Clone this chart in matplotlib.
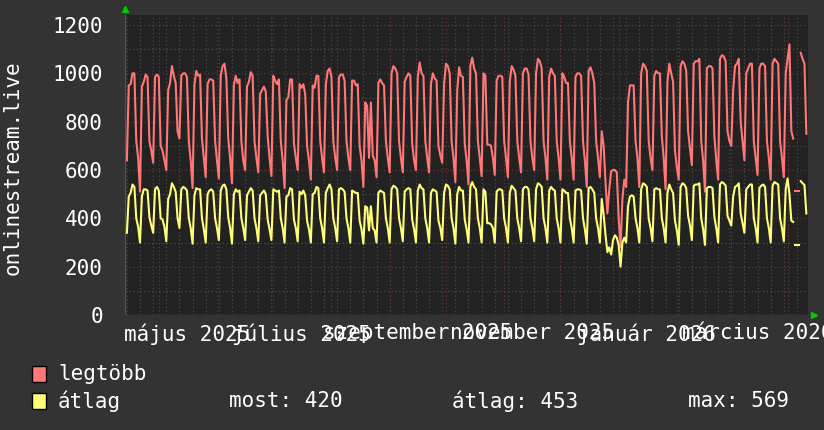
import numpy as np
import pandas as pd
import matplotlib
matplotlib.use("Agg")
import matplotlib.pyplot as plt
import matplotlib.dates as mdates

nan = np.nan

# daily values, first point 2025-04-14; one row = one week
max_vals = [640,
    950, 955, 1000, 1000, 720, 650, 510,
    945, 965, 995, 985, 720, 680, 630,
    985, 995, 985, 700, 680, 640, 600,
    930, 960, 1030, 990, 960, 760, 730,
    990, 1000, 1000, 985, 720, 640, 525,
    955, 1010, 990, 995, 730, 650, 570,
    955, 975, 975, 970, 720, 640, 565,
    990, 1030, 1040, 980, 730, 650, 545,
    950, 990, 960, 975, 720, 640, 600,
    945, 965, 1005, 990, 720, 650, 590,
    915, 930, 945, 925, 740, 650, 575,
    990, 970, 955, 975, 720, 640, 525,
    890, 900, 975, 975, 710, 650, 600,
    955, 940, 955, 915, 700, 640, 560,
    950, 940, 990, 990, 720, 650, 590,
    955, 1010, 1020, 985, 720, 650, 600,
    985, 995, 995, 970, 720, 650, 600,
    970, 970, 950, 955, 700, 640, 530,
    880, 865, 650, 880, 660, 640, 570,
    960, 975, 960, 950, 720, 650, 590,
    1000, 1030, 1020, 1000, 720, 650, 590,
    965, 985, 1000, 990, 710, 640, 600,
    985, 1045, 1000, 990, 720, 650, 590,
    955, 1000, 980, 970, 700, 660, 630,
    955, 1040, 1030, 1000, 720, 650, 550,
    930, 1025, 990, 985, 710, 640, 540,
    1030, 1065, 1020, 1000, 720, 650, 575,
    1000, 990, 705, 705, 700, 650, 580,
    970, 990, 990, 985, 720, 650, 570,
    965, 1030, 1015, 990, 720, 650, 590,
    1000, 1020, 1020, 995, 720, 650, 600,
    1000, 1060, 1050, 1020, 720, 650, 560,
    985, 1020, 1000, 990, 720, 650, 560,
    1000, 985, 960, 960, 720, 650, 560,
    985, 1000, 1000, 990, 720, 640, 530,
    1010, 1025, 1000, 960, 720, 650, 570,
    760, 700, 550, 420, 520, 595, 600,
    600, 590, 400, 280, 480, 560, 530,
    880, 950, 950, 950, 720, 650, 530,
    1000, 1040, 1030, 1010, 720, 650, 600,
    990, 1010, 1000, 1000, 740, 650, 520,
    965, 1040, 1000, 965, 680, 610, 560,
    1030, 1050, 1040, 1010, 760, 690, 620,
    1040, 1050, 1050, 1060, 720, 640, 510,
    1020, 1030, 1030, 1020, 740, 640, 560,
    1060, 1075, 1070, 1050, 760, 720, 700,
    930, 1030, 1040, 1060, 800, 720, 640,
    1000, 1020, 1040, 1040, 720, 650, 580,
    1020, 1040, 1040, 1030, 720, 650, 560,
    1040, 1060, 1050, 1040, 720, 650, 570,
    1000, 1060, 1120, 760, 730, nan, 514,
    nan, 1085, 1060, 1040, 750]

avg_vals = [340,
    490, 505, 540, 530, 400, 365, 300,
    490, 520, 520, 515, 405, 370, 340,
    520, 530, 515, 400, 395, 365, 305,
    480, 500, 545, 530, 510, 400, 360,
    520, 530, 525, 515, 400, 360, 295,
    495, 525, 520, 520, 400, 355, 300,
    500, 515, 520, 510, 400, 360, 310,
    515, 535, 540, 520, 405, 360, 295,
    500, 520, 510, 515, 400, 360, 310,
    495, 510, 525, 515, 400, 360, 305,
    495, 505, 515, 500, 395, 355, 310,
    520, 515, 510, 515, 400, 360, 300,
    490, 495, 525, 520, 395, 360, 305,
    510, 500, 515, 495, 390, 355, 300,
    500, 505, 530, 525, 400, 360, 300,
    505, 525, 540, 520, 400, 360, 305,
    520, 525, 520, 510, 400, 360, 300,
    515, 510, 505, 505, 390, 355, 295,
    450, 445, 350, 450, 360, 350, 300,
    505, 515, 510, 505, 400, 360, 300,
    520, 535, 530, 520, 400, 360, 305,
    510, 520, 525, 520, 395, 355, 300,
    515, 540, 525, 520, 400, 360, 300,
    505, 520, 515, 510, 390, 360, 310,
    505, 540, 535, 520, 400, 360, 295,
    500, 530, 515, 515, 395, 355, 300,
    530, 550, 530, 520, 400, 360, 300,
    520, 510, 380, 380, 375, 360, 300,
    510, 520, 520, 515, 400, 360, 300,
    505, 535, 525, 515, 400, 360, 305,
    520, 530, 530, 520, 400, 360, 305,
    520, 545, 540, 530, 400, 360, 300,
    515, 530, 520, 515, 400, 360, 300,
    520, 515, 505, 505, 400, 360, 300,
    515, 520, 520, 515, 400, 355, 295,
    525, 530, 520, 505, 400, 360, 300,
    480, 415, 330, 260, 280, 250, 310,
    330, 320, 290, 200, 300, 320, 300,
    450, 490, 495, 490, 400, 360, 300,
    520, 545, 540, 530, 400, 360, 305,
    520, 525, 520, 520, 400, 360, 300,
    505, 540, 520, 505, 390, 350, 290,
    530, 545, 540, 525, 410, 370, 310,
    535, 540, 540, 545, 400, 355, 290,
    525, 530, 530, 525, 405, 360, 300,
    540, 550, 545, 535, 410, 390, 370,
    490, 530, 535, 545, 420, 380, 340,
    520, 530, 540, 540, 400, 360, 300,
    525, 535, 540, 530, 400, 360, 300,
    535, 550, 545, 540, 400, 360, 305,
    520, 565, 500, 390, 385, nan, 290,
    nan, 554, 545, 538, 420]

dates = pd.date_range("2025-04-14", periods=len(max_vals), freq="D")
month_starts = pd.date_range("2025-05-01", "2026-04-01", freq="MS")
label_dates = pd.to_datetime(["2025-05-16", "2025-07-16", "2025-09-16",
                              "2025-11-16", "2026-01-16", "2026-03-16"])
label_texts = ["május 2025", "július 2025", "szeptember 2025",
               "november 2025", "január 2026", "március 2026"]
week_starts = pd.date_range("2025-04-14", "2026-04-11", freq="7D")

series_names = ["legtöbb", "átlag"]
series_colors = ["#ff7777", "#ffff77"]
stats = ["most: 420", "átlag: 453", "max: 569"]

BG = "#333333"
CANVAS = "#222222"
mono = "DejaVu Sans Mono"

fig = plt.figure(figsize=(8.24, 4.30), dpi=100, facecolor=BG)
W, H = 824, 430
x0, x1, ytop, ybot = 125, 808, 15, 315
ax = fig.add_axes([x0 / W, 1 - ybot / H, (x1 - x0) / W, (ybot - ytop) / H])
ax.set_facecolor(CANVAS)

t0 = pd.Timestamp("2025-04-13")
ax.set_xlim(t0, t0 + pd.Timedelta(days=(x1 - x0) / 1.877))
ax.set_ylim(0, 1200 + 10 * 1200 / 290)

# grid
for v in range(100, 1300, 100):
    c = "#6a3434" if v % 200 == 0 else "#4a4a4a"
    ax.axhline(v, color=c, lw=0.9, ls=(0, (1, 2)), zorder=1)
for d in week_starts:
    ax.axvline(d, color="#4a4a4a", lw=0.9, ls=(0, (1, 2)), zorder=1)
for d in month_starts:
    ax.axvline(d, color="#6a3434", lw=0.9, ls=(0, (1, 2)), zorder=1)

for vals, col in zip([max_vals, avg_vals], series_colors):
    arr = np.array(vals, dtype=float)
    ax.plot(dates, arr, color=col, lw=1.5, zorder=3)
    prev = np.r_[nan, arr[:-1]]
    nxt = np.r_[arr[1:], nan]
    lone = ~np.isnan(arr) & np.isnan(prev) & np.isnan(nxt)
    ax.plot(dates[lone], arr[lone], ls="none", marker="_", ms=4, mew=1.5,
            color=col, zorder=3)

for s in ax.spines.values():
    s.set_visible(False)
ax.axhline(0, color="#555555", lw=1, zorder=2)
ax.axvline(t0, color="#555555", lw=1, zorder=2)

ax.set_yticks(range(0, 1201, 200))
ax.set_yticklabels([str(v) for v in range(0, 1201, 200)])
ax.set_xticks(label_dates)
ax.set_xticklabels(label_texts)
ax.tick_params(colors="white", labelsize=15, length=0, pad=4)
for lab in ax.get_xticklabels() + ax.get_yticklabels():
    lab.set_fontfamily(mono)
    lab.set_color("white")
ax.tick_params(axis="y", pad=16)
ax.tick_params(axis="x", pad=6)

# axis arrows
fig.add_artist(plt.Line2D([x0 / W], [1 - 9 / H], marker="^", ms=4,
                          color="#00cc00", transform=fig.transFigure))
fig.add_artist(plt.Line2D([814 / W], [1 - 315 / H], marker=">", ms=4,
                          color="#00cc00", transform=fig.transFigure))

fig.text(13 / W, 1 - 168 / H, "onlinestream.live", rotation=90, color="white",
         fontsize=15, family=mono, ha="center", va="center")

# legend
rows = [374, 401]
for name, col, yc in zip(series_names, series_colors, rows):
    fig.add_artist(plt.Rectangle((32 / W, 1 - (yc + 8) / H), 14 / W, 16 / H,
                                 facecolor=col, edgecolor="black", lw=1,
                                 transform=fig.transFigure))
    fig.text(58 / W, 1 - yc / H, name, color="white", fontsize=15,
             family=mono, va="center")
for txt, xs in zip(stats, [229, 452, 688]):
    fig.text(xs / W, 1 - rows[1] / H, txt, color="white", fontsize=15,
             family=mono, va="center")

fig.savefig("out.png", dpi=100, facecolor=BG)
